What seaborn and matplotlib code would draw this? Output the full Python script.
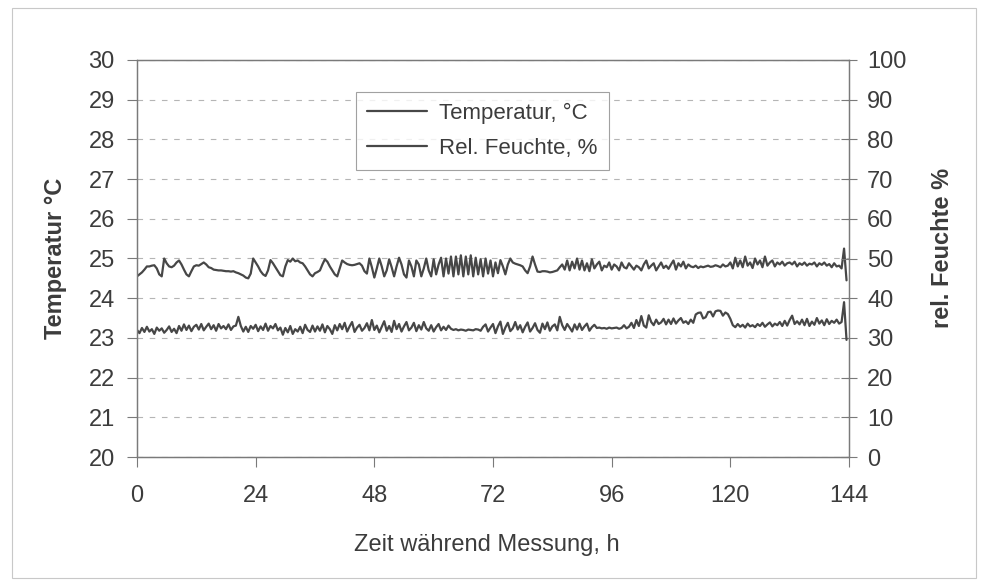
import matplotlib
matplotlib.use("Agg")
import matplotlib.pyplot as plt
import numpy as np
import pandas as pd
import seaborn as sns
from matplotlib.patches import Rectangle

# ---------------- data (0.5 h steps) ----------------
temperatur = [
    24.55, 24.60, 24.65, 24.72, 24.80, 24.80, 24.82, 24.83, 24.75, 24.60, 24.55, 25.00,
    24.88, 24.80, 24.78, 24.82, 24.90, 24.95, 24.85, 24.72, 24.60, 24.55, 24.68, 24.80,
    24.83, 24.82, 24.86, 24.90, 24.85, 24.78, 24.76, 24.72, 24.71, 24.70, 24.70, 24.69,
    24.68, 24.68, 24.67, 24.68, 24.65, 24.63, 24.60, 24.57, 24.52, 24.50, 24.62, 25.00,
    24.90, 24.80, 24.68, 24.60, 24.56, 24.70, 24.96, 24.88, 24.78, 24.68, 24.58, 24.55,
    24.80, 24.96, 24.92, 25.00, 24.93, 24.95, 24.90, 24.88, 24.80, 24.70, 24.60, 24.55,
    24.63, 24.66, 24.70, 24.85, 24.98, 24.92, 24.80, 24.70, 24.60, 24.55, 24.75, 24.95,
    24.90, 24.86, 24.84, 24.83, 24.84, 24.86, 24.88, 24.82, 24.68, 24.62, 25.00, 24.78,
    24.52, 24.75, 25.00, 24.80, 24.55, 24.70, 24.98, 24.78, 24.55, 24.80, 25.02, 24.85,
    24.60, 24.52, 24.95, 24.80, 24.55, 24.95, 24.85, 24.55, 24.75, 25.00, 24.70, 24.55,
    24.98, 24.60, 24.85, 25.02, 24.55, 25.00, 24.62, 25.05, 24.55, 25.05, 24.60, 25.08,
    24.55, 25.05, 24.60, 25.08, 24.55, 25.02, 24.60, 24.98, 24.55, 25.00, 24.62, 24.95,
    24.55, 24.90, 24.63, 24.96, 24.80, 24.60, 24.85, 25.00, 24.90, 24.87, 24.85, 24.83,
    24.80, 24.70, 24.63, 24.80, 25.05, 24.85, 24.67, 24.66, 24.68, 24.68, 24.67, 24.65,
    24.66, 24.68, 24.70, 24.78, 24.85, 24.72, 24.95, 24.70, 24.92, 24.75, 25.00, 24.72,
    24.95, 24.70, 24.88, 24.68, 24.98, 24.75, 24.85, 24.92, 24.70, 24.82, 24.78, 24.90,
    24.72, 24.85, 24.80, 24.70, 24.90, 24.78, 24.75, 24.88, 24.80, 24.72, 24.82, 24.78,
    24.70, 24.85, 24.95, 24.75, 24.82, 24.88, 24.70, 24.80, 24.90, 24.76, 24.82, 24.74,
    24.85, 24.95, 24.72, 24.88, 24.80, 24.92, 24.75, 24.85, 24.80, 24.78, 24.82, 24.76,
    24.80, 24.78, 24.80, 24.82, 24.79, 24.80, 24.83, 24.81, 24.78, 24.85, 24.80, 24.82,
    24.90, 24.75, 25.02, 24.80, 24.95, 24.78, 25.05, 24.82, 24.90, 24.76, 25.00, 24.85,
    24.95, 24.78, 25.05, 24.82, 24.90, 24.95, 24.80, 24.90, 24.85, 24.92, 24.82, 24.88,
    24.90, 24.85, 24.92, 24.80, 24.88, 24.84, 24.90, 24.82, 24.87, 24.85, 24.90, 24.80,
    24.88, 24.84, 24.90, 24.82, 24.86, 24.78, 24.88, 24.80, 24.82, 24.75, 25.25, 24.45,
]

feuchte = [
    32.0, 31.2, 32.5, 31.5, 32.8, 31.6, 32.2, 31.0, 32.6, 31.8, 32.4, 31.3,
    32.0, 32.9, 31.5, 32.3, 31.2, 33.0, 31.8, 33.4, 32.0, 33.1, 31.7, 32.8,
    33.3, 32.1, 33.5, 31.9, 32.8, 33.6, 32.2, 33.2, 31.8, 33.5, 32.4, 33.0,
    32.2, 33.4, 32.0, 32.9, 33.1, 35.3, 33.0, 31.6, 32.8, 31.5, 33.0, 32.3,
    33.3, 31.7, 32.9, 32.0, 33.6, 31.8, 33.0, 32.4, 33.5, 31.9, 32.6, 30.8,
    32.5, 31.4, 33.0, 31.0, 32.2, 31.6, 32.8, 31.2, 33.3, 32.0, 31.5, 33.1,
    31.6, 32.9, 31.8, 33.4, 31.4, 33.0, 32.2, 31.0, 33.2, 31.9, 33.5, 32.2,
    33.8, 31.6, 32.9, 34.0, 31.5, 32.6, 33.3, 31.8, 32.5, 33.7, 31.9, 34.5,
    32.0, 33.1, 31.4, 32.8, 34.2, 31.8, 33.0, 31.5, 34.3, 32.2, 33.5, 31.6,
    32.9, 34.0, 31.9, 32.6, 33.8, 31.7, 33.2, 32.1, 34.0, 32.4, 31.8, 33.2,
    31.6, 32.7, 33.5, 31.9, 32.8, 32.0, 33.1, 32.3, 32.0, 32.2, 31.9, 32.1,
    32.0, 31.8, 32.1, 32.0, 31.9, 32.2, 32.1, 31.8, 32.8, 33.4, 31.6, 32.6,
    33.5, 31.2, 32.9, 34.1, 31.0, 32.6, 33.8, 31.7, 32.4, 34.0, 32.1, 33.2,
    31.4, 32.8, 33.9, 31.6, 32.5, 33.7, 32.0, 31.3, 33.6, 32.2, 33.9, 31.8,
    32.9, 33.4, 31.9, 35.3, 33.2, 32.0, 33.5, 32.6, 31.6, 33.4, 32.1, 33.6,
    32.0, 32.9, 33.6, 31.8, 32.7, 33.3, 32.5, 32.6, 32.4, 32.5, 32.3, 32.6,
    32.4, 32.5, 32.6, 32.3, 32.5, 33.2, 32.4, 32.8, 33.8, 32.5, 34.5, 33.0,
    35.5, 33.1, 32.6, 35.7, 34.0, 33.2, 34.6, 33.5, 33.9, 34.8, 33.4, 34.6,
    33.5, 34.9, 33.6, 34.4, 35.0, 33.8, 34.2, 33.5, 34.6, 33.8, 35.9, 36.3,
    36.4, 34.9, 35.2, 36.5, 36.6, 35.4, 36.7, 36.9, 36.8, 35.6, 36.4, 36.0,
    34.8, 33.2, 32.7, 33.5, 32.8, 33.3, 32.6, 33.6, 32.9, 33.2, 32.7, 33.5,
    33.0, 33.8, 32.8, 33.4, 33.9, 32.9, 33.6, 33.2, 34.0, 33.0, 34.3, 33.1,
    34.5, 35.6, 33.5, 34.2, 33.4, 34.6, 33.2, 34.8, 33.0, 34.1, 33.3, 35.0,
    33.6, 34.4, 33.2, 34.7, 33.5, 34.3, 33.8, 34.6, 33.6, 34.0, 39.0, 29.5,
]

zeit = np.arange(len(temperatur)) * 0.5  # hours, 0.5 h sampling

x_ticks = [0, 24, 48, 72, 96, 120, 144]
temp_ticks = [20, 21, 22, 23, 24, 25, 26, 27, 28, 29, 30]
rh_ticks = [0, 10, 20, 30, 40, 50, 60, 70, 80, 90, 100]

label_temp = "Temperatur, °C"
label_rh = "Rel. Feuchte, %"

df = pd.DataFrame({"Zeit": zeit, "Temperatur": temperatur, "Feuchte": feuchte})

# ---------------- style ----------------
sns.set_theme(style="white")
plt.rcParams["font.family"] = ["Liberation Sans", "DejaVu Sans"]
TXT = "#3c3c3c"
LINE = "#474747"
FRAME = "#7a7a7a"
FS = 17

fig = plt.figure(figsize=(9.83, 5.86), dpi=100)
ax = fig.add_axes([137 / 983, 1 - 457 / 586, (849 - 137) / 983, (457 - 60) / 586])

sns.lineplot(data=df, x="Zeit", y="Temperatur", ax=ax, color=LINE, lw=1.6,
             label=label_temp, legend=False)
ax2 = ax.twinx()
sns.lineplot(data=df, x="Zeit", y="Feuchte", ax=ax2, color=LINE, lw=1.6,
             label=label_rh, legend=False)

ax.set_xlim(0, 144)
ax.set_ylim(20, 30)
ax2.set_ylim(0, 100)
ax.set_xticks(x_ticks)
ax.set_yticks(temp_ticks)
ax2.set_yticks(rh_ticks)

for a in (ax, ax2):
    for s in a.spines.values():
        s.set_color(FRAME)
        s.set_linewidth(0.9)

ax.grid(axis="y", color="#b5b5b5", linestyle=(0, (5, 6)), linewidth=0.8)
ax.grid(axis="x", visible=False)
ax2.grid(False)

ax.tick_params(axis="y", direction="out", length=7, width=0.8, color=FRAME,
               labelsize=FS, labelcolor=TXT, pad=9, left=True)
ax.tick_params(axis="x", direction="out", length=7, width=0.8, color=FRAME,
               labelsize=FS, labelcolor=TXT, pad=13, bottom=True)
ax2.tick_params(axis="y", direction="inout", length=12, width=0.8, color=FRAME,
                labelsize=FS, labelcolor=TXT, pad=7, right=True)

ax.set_xlabel("Zeit während Messung, h", fontsize=FS, color=TXT)
ax.xaxis.set_label_coords(0.492, -0.194)
ax.set_ylabel("Temperatur °C", fontsize=FS, fontweight="bold", color=TXT)
ax.yaxis.set_label_coords(-0.098, 0.5)
ax2.set_ylabel("rel. Feuchte %", fontsize=FS, fontweight="bold", color=TXT,
               rotation=90)
ax2.yaxis.set_label_coords(1.115, 0.527)

h1, l1 = ax.get_legend_handles_labels()
h2, l2 = ax2.get_legend_handles_labels()
leg = ax2.legend(h1 + h2, l1 + l2, loc="upper left",
                 bbox_to_anchor=((356 - 137) / 712, (457 - 92) / 397),
                 fontsize=16, frameon=True, fancybox=False, handlelength=2.7,
                 handletextpad=0.55, borderpad=0.5, labelspacing=0.62,
                 borderaxespad=0)
leg.get_frame().set_edgecolor("#8a8a8a")
leg.get_frame().set_linewidth(0.8)
for t in leg.get_texts():
    t.set_color(TXT)

# faint outer border of the scanned chart area
fig.add_artist(Rectangle((12 / 983, 8 / 586), (976 - 12) / 983, (578 - 8) / 586,
                         transform=fig.transFigure, fill=False,
                         edgecolor="#c8c8c8", linewidth=0.8))

fig.savefig("out.png", dpi=100)
